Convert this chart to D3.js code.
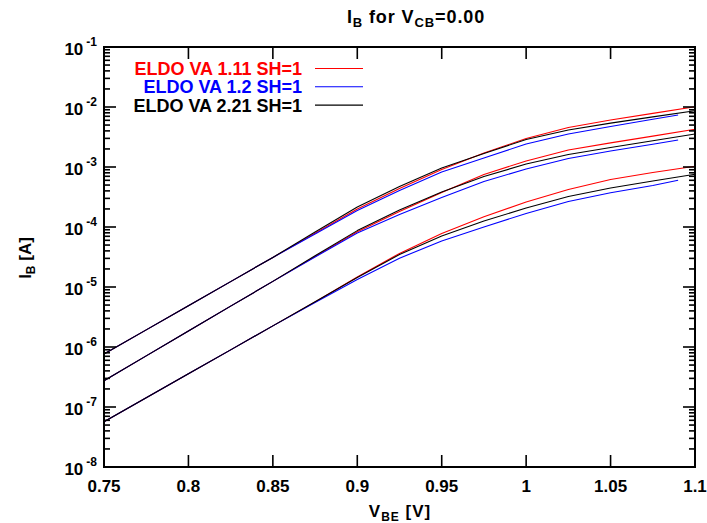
<!DOCTYPE html>
<html>
<head>
<meta charset="utf-8">
<script src="https://cdn.jsdelivr.net/npm/d3@7/dist/d3.min.js"></script>
<style>
  body { margin: 0; background: #fff; }
  text { font-family: "Liberation Sans", Arial, Helvetica, sans-serif; font-weight: bold; fill: #000; }
</style>
</head>
<body>
<div id="chart"></div>
<script>
// V_BE sweep (V)
const vbe = [0.75, 0.775, 0.8, 0.825, 0.85, 0.875, 0.9, 0.925, 0.95, 0.975, 1.0, 1.025, 1.05, 1.075, 1.1];
const vbeBlue = [0.75, 0.775, 0.8, 0.825, 0.85, 0.875, 0.9, 0.925, 0.95, 0.975, 1.0, 1.025, 1.05, 1.075, 1.09];

// I_B (A), three curve groups per model
const va111Top = [7.64e-7, 1.93e-6, 4.88e-6, 1.23e-5, 3.11e-5, 7.85e-5, 2.0e-4, 4.38e-4, 9.09e-4, 1.71e-3, 2.99e-3, 4.55e-3, 6.07e-3, 7.82e-3, 1.01e-2];
const va111Mid = [2.74e-7, 7.12e-7, 1.85e-6, 4.80e-6, 1.24e-5, 3.22e-5, 8.32e-5, 1.81e-4, 3.76e-4, 7.50e-4, 1.26e-3, 1.92e-3, 2.52e-3, 3.27e-3, 4.25e-3];
const va111Low = [5.69e-8, 1.43e-7, 3.58e-7, 8.96e-7, 2.25e-6, 5.63e-6, 1.47e-5, 3.63e-5, 7.76e-5, 1.48e-4, 2.61e-4, 4.22e-4, 6.19e-4, 8.10e-4, 1.03e-3];

const va12Top = [7.64e-7, 1.93e-6, 4.88e-6, 1.23e-5, 3.11e-5, 7.64e-5, 1.88e-4, 4.06e-4, 8.25e-4, 1.41e-3, 2.42e-3, 3.55e-3, 4.73e-3, 6.24e-3, 7.36e-3];
const va12Mid = [2.74e-7, 7.12e-7, 1.85e-6, 4.80e-6, 1.24e-5, 3.16e-5, 7.94e-5, 1.62e-4, 3.10e-4, 5.73e-4, 9.26e-4, 1.39e-3, 1.85e-3, 2.40e-3, 2.82e-3];
const va12Low = [5.69e-8, 1.43e-7, 3.58e-7, 8.96e-7, 2.25e-6, 5.50e-6, 1.33e-5, 3.02e-5, 5.84e-5, 1.00e-4, 1.68e-4, 2.66e-4, 3.73e-4, 4.92e-4, 6.00e-4];

const va221Top = [7.64e-7, 1.93e-6, 4.88e-6, 1.23e-5, 3.11e-5, 8.25e-5, 2.15e-4, 4.73e-4, 9.62e-4, 1.68e-3, 2.87e-3, 4.14e-3, 5.39e-3, 6.84e-3, 8.68e-3];
const va221Mid = [2.74e-7, 7.12e-7, 1.85e-6, 4.80e-6, 1.24e-5, 3.31e-5, 8.71e-5, 1.92e-4, 3.83e-4, 6.94e-4, 1.12e-3, 1.62e-3, 2.11e-3, 2.73e-3, 3.55e-3];
const va221Low = [5.69e-8, 1.43e-7, 3.58e-7, 8.96e-7, 2.25e-6, 5.70e-6, 1.44e-5, 3.47e-5, 7.08e-5, 1.26e-4, 2.07e-4, 3.22e-4, 4.47e-4, 5.84e-4, 7.55e-4];

const seriesNames = ["ELDO VA 1.11 SH=1", "ELDO VA 1.2 SH=1", "ELDO VA 2.21 SH=1"];
const seriesColors = ["#ff0000", "#0000ff", "#000000"];

const xTicks = [0.75, 0.8, 0.85, 0.9, 0.95, 1, 1.05, 1.1];
const yExponents = [-8, -7, -6, -5, -4, -3, -2, -1];

const width = 707, height = 523;
const margin = { left: 104, right: 12, top: 47, bottom: 56 };

const svg = d3.select("#chart")
  .append("svg")
  .attr("width", width)
  .attr("height", height);

const x = d3.scaleLinear()
  .domain([0.75, 1.1])
  .range([margin.left, width - margin.right]);

const y = d3.scaleLog()
  .domain([1e-8, 1e-1])
  .range([height - margin.bottom, margin.top]);

const x0 = x.range()[0], x1 = x.range()[1];
const y0 = y.range()[0], y1 = y.range()[1];

// curves: red, then blue, then black on top
const groups = [
  { xs: vbe, ys: [va111Top, va111Mid, va111Low], color: seriesColors[0] },
  { xs: vbeBlue, ys: [va12Top, va12Mid, va12Low], color: seriesColors[1] },
  { xs: vbe, ys: [va221Top, va221Mid, va221Low], color: seriesColors[2] }
];

const line = d3.line()
  .x(d => x(d[0]))
  .y(d => y(d[1]));

const curves = svg.append("g");
groups.forEach(g => {
  g.ys.forEach(vals => {
    curves.append("path")
      .datum(g.xs.map((v, i) => [v, vals[i]]))
      .attr("d", line)
      .attr("fill", "none")
      .attr("stroke", g.color)
      .attr("stroke-width", 1.1)
      .attr("stroke-linejoin", "round");
  });
});

// ticks (inward, mirrored on all four sides)
const ticks = svg.append("g").attr("stroke", "#000").attr("stroke-width", 1.6);
const majorLen = 12, minorLen = 6;

xTicks.forEach(v => {
  ticks.append("line").attr("x1", x(v)).attr("x2", x(v)).attr("y1", y0).attr("y2", y0 - majorLen);
  ticks.append("line").attr("x1", x(v)).attr("x2", x(v)).attr("y1", y1).attr("y2", y1 + majorLen);
});

yExponents.forEach(e => {
  const major = Math.pow(10, e);
  [x0, x1].forEach((xe, side) => {
    const dir = side === 0 ? 1 : -1;
    ticks.append("line").attr("x1", xe).attr("x2", xe + dir * majorLen)
      .attr("y1", y(major)).attr("y2", y(major));
    if (e < -1) {
      for (let m = 2; m <= 9; m++) {
        const yy = y(m * major);
        ticks.append("line").attr("x1", xe).attr("x2", xe + dir * minorLen)
          .attr("y1", yy).attr("y2", yy);
      }
    }
  });
});

// frame
svg.append("rect")
  .attr("x", x0).attr("y", y1)
  .attr("width", x1 - x0).attr("height", y0 - y1)
  .attr("fill", "none")
  .attr("stroke", "#000")
  .attr("stroke-width", 2);

// x tick labels
svg.append("g")
  .selectAll("text")
  .data(xTicks)
  .join("text")
  .attr("x", d => x(d))
  .attr("y", y0 + 25)
  .attr("text-anchor", "middle")
  .style("font-size", "17px")
  .text(d => d3.format("")(d));

// y tick labels 10^e
const yl = svg.append("g")
  .selectAll("text")
  .data(yExponents)
  .join("text")
  .attr("x", x0 - 7)
  .attr("y", d => y(Math.pow(10, d)) + 8)
  .attr("text-anchor", "end")
  .style("font-size", "17px");
yl.append("tspan").text("10");
yl.append("tspan")
  .attr("dx", 3)
  .attr("dy", -9)
  .style("font-size", "12px")
  .text(d => d);

// title
const title = svg.append("text")
  .attr("x", 416).attr("y", 23)
  .attr("text-anchor", "middle")
  .style("font-size", "18px")
  .style("letter-spacing", "0.9px");
title.append("tspan").text("I");
title.append("tspan").attr("dy", 4).style("font-size", "13px").text("B");
title.append("tspan").attr("dy", -4).text(" for V");
title.append("tspan").attr("dy", 4).style("font-size", "13px").text("CB");
title.append("tspan").attr("dy", -4).text("=0.00");

// x axis label
const xl = svg.append("text")
  .attr("x", 400).attr("y", 517)
  .attr("text-anchor", "middle")
  .style("font-size", "17px")
  .style("letter-spacing", "1px");
xl.append("tspan").text("V");
xl.append("tspan").attr("dy", 4).style("font-size", "12px").text("BE");
xl.append("tspan").attr("dy", -4).text(" [V]");

// y axis label
const ylab = svg.append("text")
  .attr("transform", "translate(31,258) rotate(-90)")
  .attr("text-anchor", "middle")
  .style("font-size", "17px");
ylab.append("tspan").text("I");
ylab.append("tspan").attr("dy", 4).style("font-size", "12px").text("B");
ylab.append("tspan").attr("dy", -4).text(" [A]");

// legend
const legend = svg.append("g");
seriesNames.forEach((name, i) => {
  const ly = 68.5 + i * 18.3;
  legend.append("text")
    .attr("x", 302).attr("y", ly + 6.5)
    .attr("text-anchor", "end")
    .style("font-size", "18px")
    .style("fill", seriesColors[i])
    .text(name);
  legend.append("line")
    .attr("x1", 315).attr("x2", 363)
    .attr("y1", ly).attr("y2", ly)
    .attr("stroke", seriesColors[i])
    .attr("stroke-width", 1.1);
});
</script>
</body>
</html>
